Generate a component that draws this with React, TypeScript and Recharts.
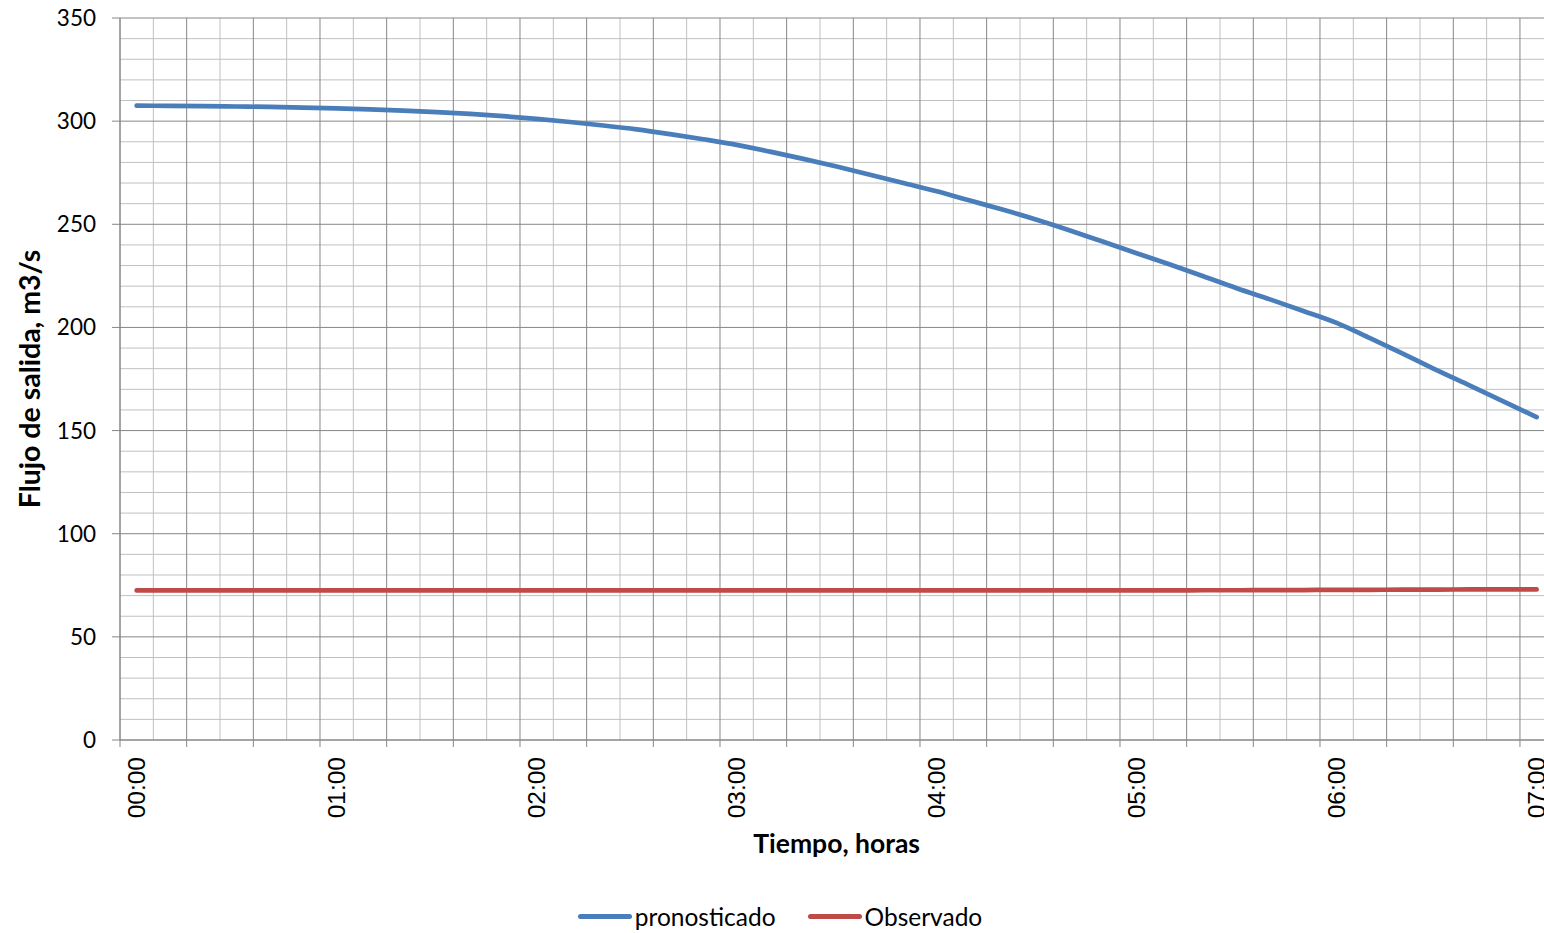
import React from "react";
import {
  LineChart,
  Line,
  XAxis,
  YAxis,
  ReferenceLine,
  Legend,
} from "recharts";

// minutes from 00:00, one point every 10 min
const minutes = [
  0, 10, 20, 30, 40, 50, 60, 70, 80, 90, 100, 110, 120, 130, 140, 150, 160,
  170, 180, 190, 200, 210, 220, 230, 240, 250, 260, 270, 280, 290, 300, 310,
  320, 330, 340, 350, 360, 370, 380, 390, 400, 410, 420,
];

const pronosticado = [
  307.5, 307.4, 307.3, 307.1, 306.9, 306.6, 306.2, 305.7, 305.1, 304.4, 303.5,
  302.4, 301.1, 299.6, 297.9, 296.0, 293.7, 291.2, 288.5, 285.2, 281.7, 278.0,
  274.0, 270.0, 266.0, 261.5, 257.0, 252.2, 247.0, 241.5, 236.0, 230.5, 224.8,
  219.0, 213.6, 208.0, 202.2, 194.8, 187.2, 179.3, 171.8, 164.2, 156.5,
];

const observado = [
  72.5, 72.5, 72.5, 72.5, 72.5, 72.5, 72.5, 72.5, 72.5, 72.5, 72.5, 72.5,
  72.5, 72.5, 72.5, 72.5, 72.5, 72.5, 72.5, 72.5, 72.5, 72.5, 72.5, 72.5,
  72.5, 72.5, 72.5, 72.5, 72.5, 72.5, 72.5, 72.5, 72.6, 72.6, 72.7, 72.7,
  72.8, 72.8, 72.9, 72.9, 73.0, 73.0, 73.0,
];

const yTicks = [0, 50, 100, 150, 200, 250, 300, 350];
const yMinor = [
  10, 20, 30, 40, 60, 70, 80, 90, 110, 120, 130, 140, 160, 170, 180, 190, 210,
  220, 230, 240, 260, 270, 280, 290, 310, 320, 330, 340,
];
// vertical grid: major every 20 min, minor halfway (category borders)
const xMajor = [
  -5, 15, 35, 55, 75, 95, 115, 135, 155, 175, 195, 215, 235, 255, 275, 295,
  315, 335, 355, 375, 395, 415,
];
const xMinor = [
  5, 25, 45, 65, 85, 105, 125, 145, 165, 185, 205, 225, 245, 265, 285, 305,
  325, 345, 365, 385, 405, 425,
];
const hourLabels = [0, 60, 120, 180, 240, 300, 360, 420];

const data = minutes.map((m, i) => ({
  min: m,
  pronosticado: pronosticado[i],
  Observado: observado[i],
}));

const MAJOR = "#868686";
const MINOR = "#c0c0c0";
const BLUE = "#4a7ebb";
const RED = "#be4b48";
const CAL = "Lato, 'Noto Sans', sans-serif";

const fmt = (m: number) =>
  `${String(Math.floor(m / 60)).padStart(2, "0")}:${String(m % 60).padStart(2, "0")}`;

function XTick(props: any) {
  const { x, y, payload } = props;
  const v = payload.value as number;
  if (v % 60 === 0) {
    const ty = y + 17;
    return (
      <text
        x={x}
        y={ty}
        transform={`rotate(-90 ${x} ${ty})`}
        textAnchor="end"
        dominantBaseline="central"
        fontFamily="'Liberation Sans', Arial, sans-serif"
        fontSize={24.5}
        fill="#000"
      >
        {fmt(v)}
      </text>
    );
  }
  return <line x1={x} x2={x} y1={y} y2={y + 7} stroke={MAJOR} strokeWidth={1} />;
}

function LegendBox() {
  const items = [
    { name: "pronosticado", color: BLUE },
    { name: "Observado", color: RED },
  ];
  return (
    <div
      style={{
        display: "flex",
        justifyContent: "center",
        alignItems: "center",
        gap: 32,
        fontFamily: CAL,
        fontSize: 24.5,
        color: "#000",
      }}
    >
      {items.map((it) => (
        <div key={it.name} style={{ display: "flex", alignItems: "center" }}>
          <span
            style={{
              display: "inline-block",
              width: 54,
              height: 5,
              borderRadius: 3,
              background: it.color,
              marginRight: 3,
            }}
          />
          <span>{it.name}</span>
        </div>
      ))}
    </div>
  );
}

export default function App() {
  return (
    <div
      style={{
        position: "fixed",
        left: 0,
        top: 0,
        width: 1544,
        height: 933,
        overflow: "hidden",
        background: "#fff",
      }}
    >
      <LineChart
        width={1560}
        height={933}
        data={data}
        margin={{ top: 18, right: 6.7, bottom: 0, left: 0 }}
      >
        {yMinor.map((v) => (
          <ReferenceLine key={`ym${v}`} y={v} stroke={MINOR} strokeWidth={1} />
        ))}
        {xMinor.map((v) => (
          <ReferenceLine key={`xm${v}`} x={v} stroke={MINOR} strokeWidth={1} ifOverflow="hidden" />
        ))}
        {yTicks.map((v) => (
          <ReferenceLine key={`yM${v}`} y={v} stroke={MAJOR} strokeWidth={1} />
        ))}
        {xMajor.map((v) => (
          <ReferenceLine key={`xM${v}`} x={v} stroke={MAJOR} strokeWidth={1} />
        ))}
        <XAxis
          dataKey="min"
          type="number"
          domain={[-5, 425]}
          ticks={[...xMajor, ...hourLabels].sort((a, b) => a - b)}
          interval={0}
          height={193}
          tickLine={false}
          tickSize={0}
          tickMargin={0}
          tick={<XTick />}
          axisLine={{ stroke: MAJOR, strokeWidth: 1 }}
          allowDataOverflow
          label={{
            value: "Tiempo, horas",
            position: "insideTop",
            offset: 94,
            style: {
              fontFamily: CAL,
              fontSize: 26.5,
              fontWeight: 700,
              fill: "#000",
            },
          }}
        />
        <YAxis
          type="number"
          domain={[0, 350]}
          ticks={yTicks}
          interval={0}
          width={120}
          tickSize={8}
          tickMargin={16}
          tickLine={{ stroke: MAJOR, strokeWidth: 1 }}
          axisLine={{ stroke: MAJOR, strokeWidth: 1 }}
          tick={{ fontFamily: CAL, fontSize: 22.5, fill: "#000" }}
          label={{
            value: "Flujo de salida, m3/s",
            angle: -90,
            position: "insideLeft",
            offset: 30,
            style: {
              fontFamily: CAL,
              fontSize: 28.5,
              fontWeight: 700,
              fill: "#000",
              textAnchor: "middle",
            },
          }}
        />
        <Line
          dataKey="pronosticado"
          stroke={BLUE}
          strokeWidth={4.7}
          strokeLinecap="round"
          dot={false}
          type="monotone"
          isAnimationActive={false}
        />
        <Line
          dataKey="Observado"
          stroke={RED}
          strokeWidth={4.7}
          strokeLinecap="round"
          dot={false}
          type="monotone"
          isAnimationActive={false}
        />
        <Legend
          layout="horizontal"
          verticalAlign="middle"
          align="center"
          content={<LegendBox />}
          wrapperStyle={{ top: 902, left: 0, width: 1560, height: 32 }}
        />
      </LineChart>
    </div>
  );
}
